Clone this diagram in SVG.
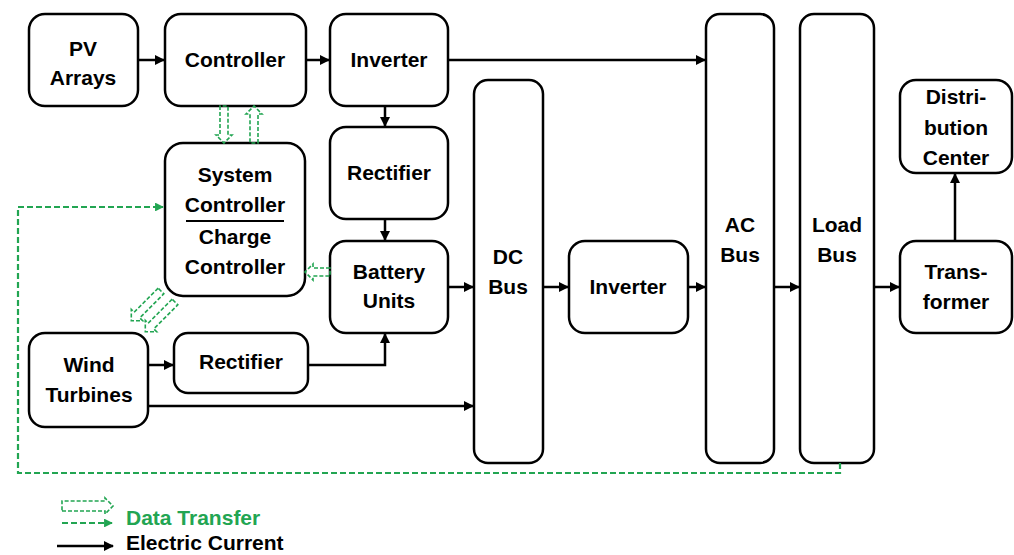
<svg xmlns="http://www.w3.org/2000/svg" width="1014" height="555" viewBox="0 0 1014 555">
<style>
.box{fill:#fff;stroke:#000;stroke-width:2.5}
.t{font-family:"Liberation Sans",Arial,sans-serif;font-weight:bold;font-size:21px;fill:#000;text-anchor:middle}
.lg{font-family:"Liberation Sans",Arial,sans-serif;font-weight:bold;font-size:21px;text-anchor:start}
.c{fill:none;stroke:#000;stroke-width:2.5}
.d{fill:none;stroke:#22A552;stroke-width:2.2;stroke-dasharray:6 3}
.h{fill:none;stroke:#22A552;stroke-width:1.6;stroke-dasharray:4 2}
</style>
<defs>
<marker id="ah" viewBox="0 0 10 10" refX="9" refY="5" markerWidth="4" markerHeight="4" orient="auto" markerUnits="strokeWidth"><path d="M0,0 L10,5 L0,10 Z" fill="#000"/></marker>
<marker id="gh" viewBox="0 0 10 10" refX="9" refY="5" markerWidth="4" markerHeight="4" orient="auto" markerUnits="strokeWidth"><path d="M0,0 L10,5 L0,10 Z" fill="#22A552"/></marker>
</defs>
<rect width="1014" height="555" fill="#fff"/>

<g id="pv"><rect class="box" x="29" y="14" width="109" height="92" rx="16"/><text class="t" x="83" y="56">PV</text><text class="t" x="83" y="85">Arrays</text></g>
<g id="controller"><rect class="box" x="165" y="14" width="141" height="92" rx="16"/><text class="t" x="235" y="67">Controller</text></g>
<g id="inverter1"><rect class="box" x="330" y="14" width="118" height="92" rx="16"/><text class="t" x="389" y="67">Inverter</text></g>
<g id="rectifier1"><rect class="box" x="330" y="127" width="118" height="92" rx="16"/><text class="t" x="389" y="180">Rectifier</text></g>
<g id="battery"><rect class="box" x="330" y="241" width="118" height="92" rx="16"/><text class="t" x="389" y="279">Battery</text><text class="t" x="389" y="308">Units</text></g>
<g id="syscontroller"><rect class="box" x="165" y="143" width="140" height="153" rx="18"/><text class="t" x="235" y="182">System</text><text class="t" x="235" y="212">Controller</text><line x1="186" y1="221" x2="284" y2="221" stroke="#000" stroke-width="2"/><text class="t" x="235" y="244">Charge</text><text class="t" x="235" y="274">Controller</text></g>
<g id="dcbus"><rect class="box" x="474" y="80" width="69" height="383" rx="14"/><text class="t" x="508" y="264">DC</text><text class="t" x="508" y="294">Bus</text></g>
<g id="inverter2"><rect class="box" x="569" y="241" width="119" height="92" rx="16"/><text class="t" x="628" y="294">Inverter</text></g>
<g id="acbus"><rect class="box" x="706" y="14" width="68" height="449" rx="14"/><text class="t" x="740" y="232">AC</text><text class="t" x="740" y="262">Bus</text></g>
<g id="loadbus"><rect class="box" x="800" y="14" width="74" height="449" rx="14"/><text class="t" x="837" y="232">Load</text><text class="t" x="837" y="262">Bus</text></g>
<g id="distribution"><rect class="box" x="900" y="80" width="112" height="93" rx="16"/><text class="t" x="956" y="104">Distri-</text><text class="t" x="956" y="135">bution</text><text class="t" x="956" y="165">Center</text></g>
<g id="transformer"><rect class="box" x="900" y="241" width="112" height="92" rx="16"/><text class="t" x="956" y="279">Trans-</text><text class="t" x="956" y="309">former</text></g>
<g id="wind"><rect class="box" x="29" y="333" width="119" height="94" rx="16"/><text class="t" x="89" y="372">Wind</text><text class="t" x="89" y="402">Turbines</text></g>
<g id="rectifier2"><rect class="box" x="174" y="333" width="134" height="60" rx="14"/><text class="t" x="241" y="369">Rectifier</text></g>

<g id="connectors">
<path class="c" marker-end="url(#ah)" d="M138,60 H164"/>
<path class="c" marker-end="url(#ah)" d="M306,60 H329"/>
<path class="c" marker-end="url(#ah)" d="M448,60 H705"/>
<path class="c" marker-end="url(#ah)" d="M385,106 V126"/>
<path class="c" marker-end="url(#ah)" d="M385,219 V240"/>
<path class="c" marker-end="url(#ah)" d="M448,287 H473"/>
<path class="c" marker-end="url(#ah)" d="M543,287 H568"/>
<path class="c" marker-end="url(#ah)" d="M688,287 H705"/>
<path class="c" marker-end="url(#ah)" d="M774,287 H799"/>
<path class="c" marker-end="url(#ah)" d="M874,287 H899"/>
<path class="c" marker-end="url(#ah)" d="M955,241 V174"/>
<path class="c" marker-end="url(#ah)" d="M148,365 H173"/>
<path class="c" marker-end="url(#ah)" d="M308,365 H385 V334"/>
<path class="c" marker-end="url(#ah)" d="M148,406 H473"/>
<path class="d" marker-end="url(#gh)" d="M840,463 V473 H18 V207 H163"/>
<path class="h" d="M0,-4 H-29 V-8 L-37,0 L-29,8 V4 H0 Z" transform="translate(224,106) rotate(-90)"/>
<path class="h" d="M0,-4 H-29 V-8 L-37,0 L-29,8 V4 H0 Z" transform="translate(254,143) rotate(90)"/>
<path class="h" d="M0,-4 H-17 V-8 L-25,0 L-17,8 V4 H0 Z" transform="translate(330,272)"/>
<path class="h" d="M0,-4 H-34 V-8 L-42,0 L-34,8 V4 H0 Z" transform="translate(161,291) rotate(-45)"/>
<path class="h" d="M0,-4 H-34 V-8 L-42,0 L-34,8 V4 H0 Z" transform="translate(175,302) rotate(-45)"/>
</g>

<g id="legend">
<path class="h" d="M0,-5 H-43 V-8 L-51,0 L-43,8 V5 H0 Z" transform="translate(62,506) rotate(180)"/>
<path class="d" marker-end="url(#gh)" d="M62,523 H112"/>
<path class="c" marker-end="url(#ah)" d="M57,546 H113"/>
<text class="lg" x="126" y="525" fill="#22A552">Data Transfer</text>
<text class="lg" x="126" y="550" fill="#000">Electric Current</text>
</g>
</svg>
